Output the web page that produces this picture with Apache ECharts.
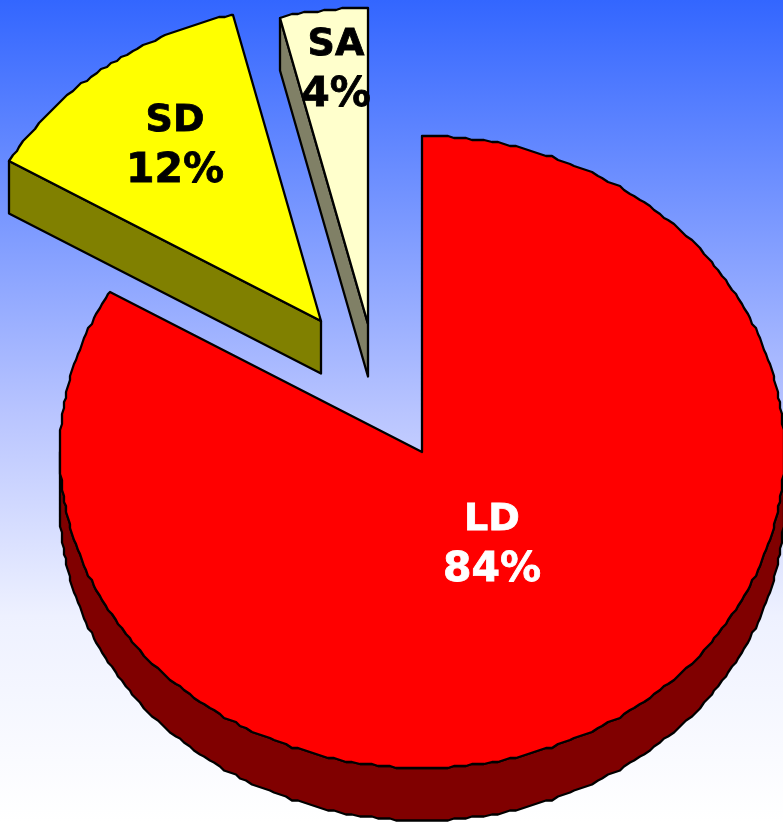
<!DOCTYPE html>
<html>
<head>
<meta charset="utf-8">
<style>
  html, body { margin: 0; padding: 0; background: #fff; }
  #chart { width: 783px; height: 822px; overflow: hidden; }
</style>
</head>
<body>
<div id="chart"></div>
<script src="https://cdn.jsdelivr.net/npm/echarts@6/dist/echarts.min.js"></script>
<script>
const categories = ['LD', 'SD', 'SA']
const percentLabels = ['84%', '12%', '4%']
const shares = [83.5, 12.6, 3.9]

// drawing setup, one entry per slice
const APEX = [[422, 452], [321, 321], [368, 324]]
const TOP_COLORS = ['#ff0000', '#ffff00', '#ffffcc']
const WALL_COLORS = ['#800000', '#808000', '#808066']
const TEXT_COLORS = ['#ffffff', '#000000', '#000000']
const LABEL_AT = [[492, 520], [175, 121], [336, 45]]
const LINE_GAP = 50

const RX = 362
const RY = 316
const DEPTH = 52.5
const W = 783
const H = 822
const total = shares.reduce((a, b) => a + b, 0)

const rad = d => d * Math.PI / 180

// the source picture has its arcs snapped to a coarse grid, keep that look
const snap = v => Math.round(v / 2) * 2

function rim(center, deg) {
  return [
    center[0] + snap(RX * Math.sin(rad(deg))),
    center[1] - snap(RY * Math.cos(rad(deg))),
  ]
}

function arc(center, from, to) {
  const pts = []
  for (let d = from; d < to; d += 1) pts.push(rim(center, d))
  pts.push(rim(center, to))
  return pts
}

const drop = p => [p[0], p[1] + DEPTH]

function renderSlice(params, api) {
  const i = params.dataIndex
  const before = shares.slice(0, i).reduce((a, b) => a + b, 0)
  const start = before / total * 360
  const end = (before + api.value(1)) / total * 360
  const c = APEX[i]
  const toPx = p => api.coord(p)
  const children = []

  const wall = pts => children.push({
    type: 'polygon',
    shape: { points: pts.map(toPx) },
    style: { fill: WALL_COLORS[i], stroke: '#000', lineWidth: 2.3, lineJoin: 'round' },
  })

  // only faces that turn towards the viewer get a side wall
  if (Math.sin(rad(start)) < -1e-6) {
    const p = rim(c, start)
    wall([c, p, drop(p), drop(c)])
  }
  if (Math.sin(rad(end)) > 1e-6) {
    const p = rim(c, end)
    wall([c, p, drop(p), drop(c)])
  }
  const a0 = Math.max(start, 90)
  const a1 = Math.min(end, 270)
  if (a1 > a0) {
    const top = arc(c, a0, a1)
    wall(top.concat(top.map(drop).reverse()))
  }

  children.push({
    type: 'polygon',
    shape: { points: [c].concat(arc(c, start, end)).map(toPx) },
    style: { fill: TOP_COLORS[i], stroke: '#000', lineWidth: 2.3, lineJoin: 'round' },
  })

  const [lx, ly] = toPx(LABEL_AT[i])
  const lines = [categories[i], percentLabels[i]]
  lines.forEach((t, k) => children.push({
    type: 'text',
    z2: 10,
    style: {
      text: t,
      x: lx,
      y: ly + k * LINE_GAP,
      align: 'center',
      verticalAlign: 'middle',
      fill: TEXT_COLORS[i],
      stroke: TEXT_COLORS[i],
      lineWidth: 0.8,
      font: 'bold ' + (k ? 41 : 38) + 'px "DejaVu Sans"',
    },
  }))

  return { type: 'group', children }
}

const chart = echarts.init(document.getElementById('chart'))
chart.setOption({
  animation: false,
  backgroundColor: {
    type: 'linear', x: 0, y: 0, x2: 0, y2: 1,
    colorStops: [
      { offset: 0, color: '#3366ff' },
      { offset: 0.5, color: '#b8c4ff' },
      { offset: 0.75, color: '#eef1ff' },
      { offset: 1, color: '#ffffff' },
    ],
  },
  grid: { left: 0, right: 0, top: 0, bottom: 0 },
  xAxis: { type: 'value', min: 0, max: W, show: false },
  yAxis: { type: 'value', min: 0, max: H, inverse: true, show: false },
  series: [{
    type: 'custom',
    silent: true,
    clip: false,
    renderItem: renderSlice,
    data: categories.map((name, i) => ({ name, value: [i, shares[i]] })),
  }],
})
</script>
</body>
</html>
